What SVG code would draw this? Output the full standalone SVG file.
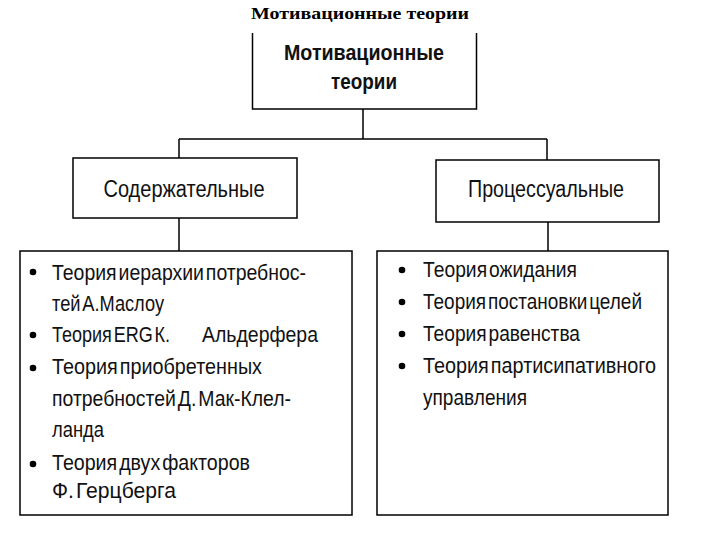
<svg xmlns="http://www.w3.org/2000/svg" width="720" height="540" viewBox="0 0 720 540">
<style>
.bx{fill:#fff;stroke:#000;stroke-width:1.5}
.ln{fill:none;stroke:#000;stroke-width:1.5}
.ttl{font-family:"Liberation Serif",serif;font-weight:bold;font-size:17px;fill:#000}
.hd{font-family:"Liberation Sans",Arial,sans-serif;font-weight:bold;font-size:22.5px;fill:#111;text-anchor:middle}
.sub{font-family:"Liberation Sans",Arial,sans-serif;font-size:23px;fill:#111;text-anchor:middle}
.it{font-family:"Liberation Sans",Arial,sans-serif;font-size:22.5px;fill:#111;word-spacing:-4px}
.bul{fill:#000}
</style>
<rect width="720" height="540" fill="#fff"/>
<text class="ttl" x="360" y="19" text-anchor="middle" textLength="218" lengthAdjust="spacingAndGlyphs">Мотивационные теории</text>
<g id="connectors">
<path class="ln" d="M363,109 V139 M179,139 H547 M179,139 V158 M547,139 V160 M179,218 V251 M548,222 V251"/>
</g>
<g id="root">
<path class="ln" d="M252.5,33 V109 H476.5 V33" fill="#fff"/>
<text class="hd" x="364" y="60" textLength="160" lengthAdjust="spacingAndGlyphs">Мотивационные</text>
<text class="hd" x="364" y="89" textLength="66" lengthAdjust="spacingAndGlyphs">теории</text>
</g>
<g id="content">
<rect class="bx" x="73" y="158" width="224" height="60"/>
<text class="sub" x="184" y="197" textLength="161" lengthAdjust="spacingAndGlyphs">Содержательные</text>
</g>
<g id="process">
<rect class="bx" x="436" y="160" width="223" height="62"/>
<text class="sub" x="546" y="197" textLength="156" lengthAdjust="spacingAndGlyphs">Процессуальные</text>
</g>
<g id="content-list">
<rect class="bx" x="20" y="251" width="332" height="264"/>
<circle class="bul" cx="33" cy="272" r="3.3"/>
<text class="it" x="52" y="280" textLength="254" lengthAdjust="spacingAndGlyphs">Теория иерархии потребнос-</text>
<text class="it" x="52" y="311" textLength="112" lengthAdjust="spacingAndGlyphs">тей А.Маслоу</text>
<circle class="bul" cx="33" cy="335" r="3.3"/>
<text class="it" x="52" y="342" textLength="118" lengthAdjust="spacingAndGlyphs">Теория ERG К.</text>
<text class="it" x="202" y="342" textLength="116" lengthAdjust="spacingAndGlyphs">Альдерфера</text>
<circle class="bul" cx="33" cy="368" r="3.3"/>
<text class="it" x="52" y="374" textLength="210" lengthAdjust="spacingAndGlyphs">Теория приобретенных</text>
<text class="it" x="52" y="406" textLength="239" lengthAdjust="spacingAndGlyphs">потребностей Д. Мак-Клел-</text>
<text class="it" x="52" y="437" textLength="52" lengthAdjust="spacingAndGlyphs">ланда</text>
<circle class="bul" cx="33" cy="464" r="3.3"/>
<text class="it" x="52" y="470" textLength="198" lengthAdjust="spacingAndGlyphs">Теория двух факторов</text>
<text class="it" x="52" y="498" textLength="124" lengthAdjust="spacingAndGlyphs">Ф. Герцберга</text>
</g>
<g id="process-list">
<rect class="bx" x="377" y="251" width="291" height="264"/>
<circle class="bul" cx="402" cy="270" r="3.3"/>
<text class="it" x="423" y="277" textLength="154" lengthAdjust="spacingAndGlyphs">Теория ожидания</text>
<circle class="bul" cx="402" cy="302" r="3.3"/>
<text class="it" x="423" y="309" textLength="219" lengthAdjust="spacingAndGlyphs">Теория постановки целей</text>
<circle class="bul" cx="402" cy="334" r="3.3"/>
<text class="it" x="423" y="341" textLength="157" lengthAdjust="spacingAndGlyphs">Теория равенства</text>
<circle class="bul" cx="402" cy="366" r="3.3"/>
<text class="it" x="423" y="373" textLength="233" lengthAdjust="spacingAndGlyphs">Теория партисипативного</text>
<text class="it" x="423" y="405" textLength="104" lengthAdjust="spacingAndGlyphs">управления</text>
</g>
</svg>
